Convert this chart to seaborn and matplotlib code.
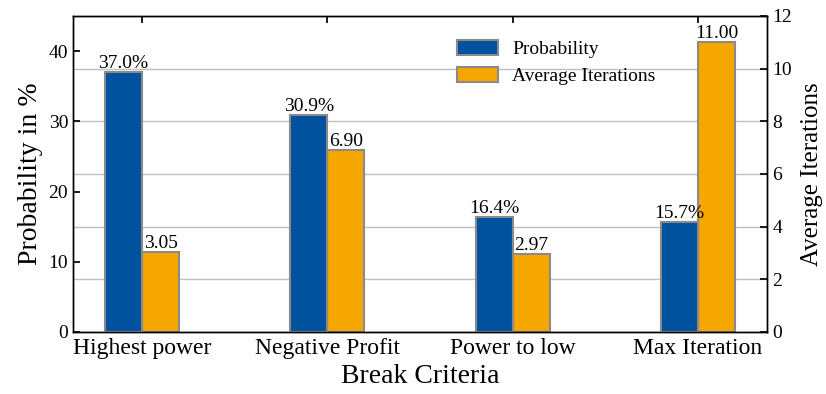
import numpy as np
import pandas as pd
import matplotlib
matplotlib.use("Agg")
import matplotlib.pyplot as plt
import seaborn as sns
from matplotlib.patches import Patch

categories = ["Highest power", "Negative Profit", "Power to low", "Max Iteration"]
probability = [37.0, 30.9, 16.4, 15.7]
avg_iterations = [3.05, 6.90, 2.97, 11.00]
series = ["Probability", "Average Iterations"]

sns.set_theme(style="white")
plt.rcParams["font.family"] = ["Liberation Serif", "DejaVu Serif"]
plt.rcParams["text.color"] = "black"
plt.rcParams["axes.labelcolor"] = "black"
plt.rcParams["xtick.color"] = "black"
plt.rcParams["ytick.color"] = "black"

BLUE = "#00519E"
ORANGE = "#F5A700"
EDGE = "#8A8A8A"
palette = {series[0]: BLUE, series[1]: ORANGE}

n = len(categories)
df1 = pd.DataFrame({"crit": categories * 2,
                    "series": [series[0]] * n + [series[1]] * n,
                    "val": probability + [np.nan] * n})
df2 = pd.DataFrame({"crit": categories * 2,
                    "series": [series[0]] * n + [series[1]] * n,
                    "val": [np.nan] * n + avg_iterations})

fig = plt.figure(figsize=(8.26, 3.94), dpi=100)
ax1 = fig.add_axes([73/826, 1-332/394, 694/826, 316/394])
ax2 = ax1.twinx()

sns.barplot(data=df1, x="crit", y="val", hue="series", hue_order=series,
            order=categories, palette=palette, width=0.4, ax=ax1, saturation=1,
            edgecolor=EDGE, linewidth=1.5, legend=False, errorbar=None)
sns.barplot(data=df2, x="crit", y="val", hue="series", hue_order=series,
            order=categories, palette=palette, width=0.4, ax=ax2, saturation=1,
            edgecolor=EDGE, linewidth=1.5, legend=False, errorbar=None)

ax1.set_zorder(ax2.get_zorder() + 1)
ax1.patch.set_visible(False)

for c in ax1.containers:
    vals = [b.get_height() for b in c]
    if all(np.isnan(v) for v in vals):
        continue
    ax1.bar_label(c, labels=[f"{v:.1f}%" for v in probability], padding=0,
                  fontsize=14, color="black")
for c in ax2.containers:
    vals = [b.get_height() for b in c]
    if all(np.isnan(v) for v in vals):
        continue
    ax2.bar_label(c, labels=[f"{v:.2f}" for v in avg_iterations], padding=0,
                  fontsize=14, color="black")

ax1.set_xlim(-0.373, n - 1 + 0.373)
ax1.set_ylim(0, 45)
ax1.set_yticks([0, 10, 20, 30, 40])
ax2.set_ylim(0, 12)
ax2.set_yticks([0, 2, 4, 6, 8, 10, 12])

ax2.grid(axis="y", color="#C0C0C0", linewidth=1.0)
ax2.set_axisbelow(True)
ax1.grid(False)

ax1.set_xlabel("Break Criteria", fontsize=20)
ax1.set_ylabel("Probability in %", fontsize=20)
ax2.set_ylabel("Average Iterations", fontsize=18, labelpad=6)
ax2.set_xlabel("")

ax1.tick_params(axis="x", direction="in", top=True, bottom=False, labelsize=17,
                length=5, color="black", pad=4)
ax1.tick_params(axis="y", direction="in", left=True, labelsize=14, length=5, color="black")
ax2.tick_params(axis="y", direction="in", right=True, labelsize=14, length=5,
                color="black", pad=4)

for ax in (ax1, ax2):
    for s in ax.spines.values():
        s.set_color("black")
        s.set_linewidth(1.0)

handles = [Patch(facecolor=BLUE, edgecolor=EDGE, linewidth=1.5, label=series[0]),
           Patch(facecolor=ORANGE, edgecolor=EDGE, linewidth=1.5, label=series[1])]
ax1.legend(handles=handles, loc="upper left", bbox_to_anchor=((449-73)/694, (332-32)/316),
           frameon=False, fontsize=14, handlelength=2.1, handleheight=0.8,
           handletextpad=0.75, labelspacing=0.45, borderaxespad=0, labelcolor="black")

fig.savefig("out.png", dpi=100)
